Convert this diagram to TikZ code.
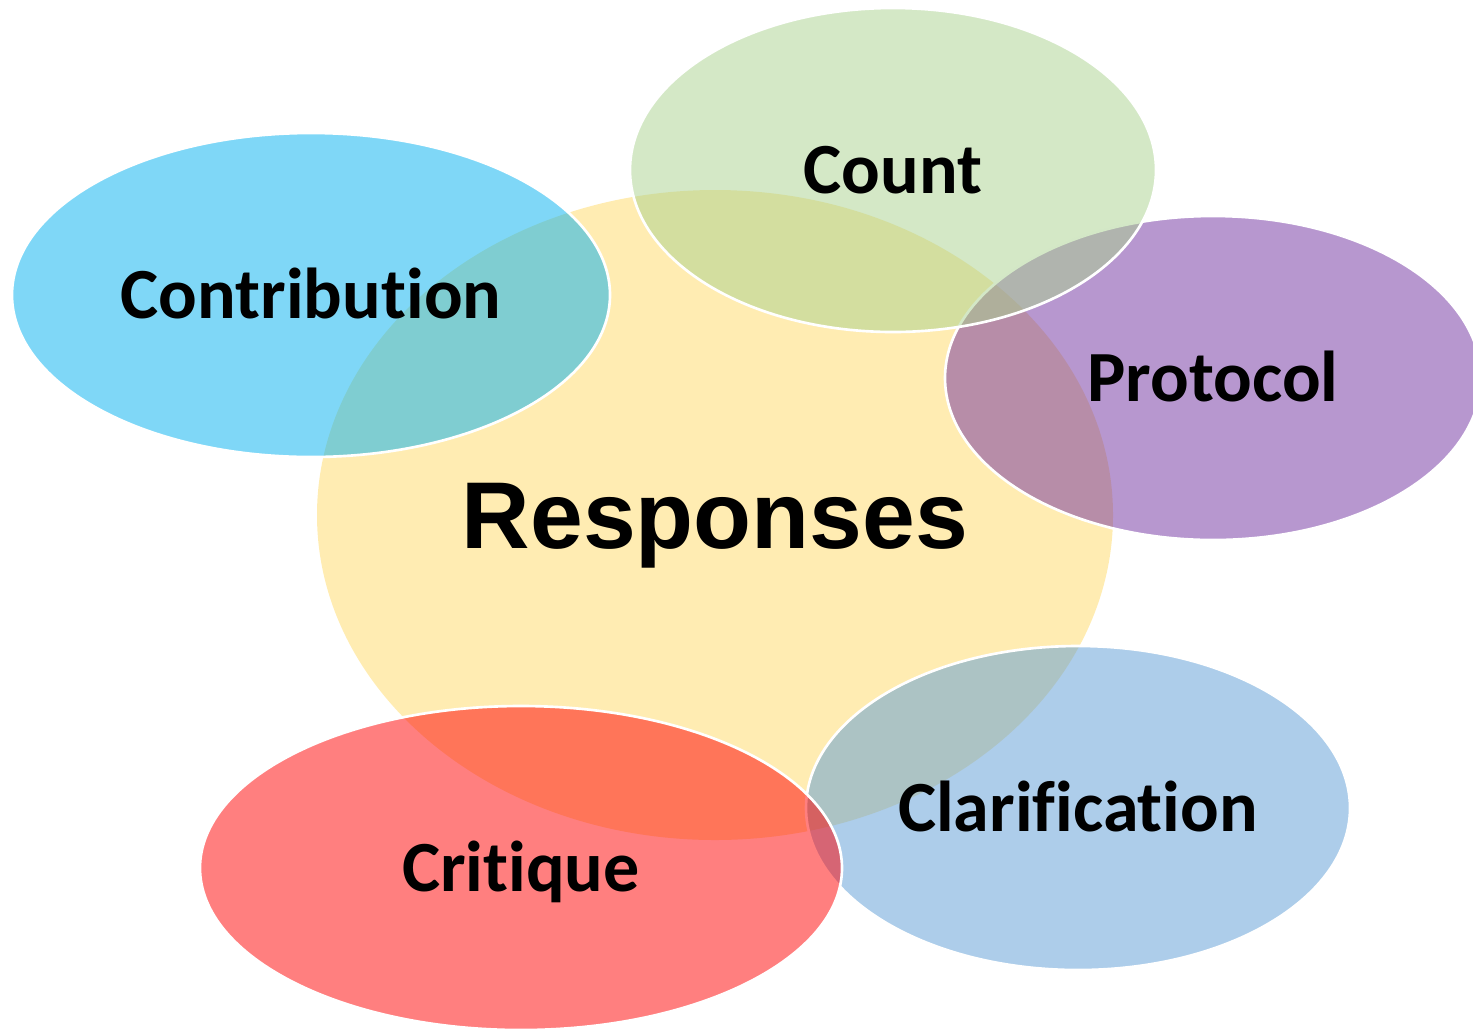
\documentclass[tikz,border=0pt]{standalone}
\usepackage{fontspec}
\setmainfont[Ligatures={NoCommon}]{Carlito}
\newfontfamily\headfont{Liberation Sans}
\usepackage{tikz}
\usetikzlibrary{shapes.geometric}

\definecolor{respyellow}{HTML}{FFD966}
\definecolor{countgreen}{HTML}{A9D18E}
\definecolor{contribcyan}{HTML}{00B0F0}
\definecolor{protpurple}{HTML}{7030A0}
\definecolor{clarblue}{HTML}{5B9BD5}
\definecolor{critred}{HTML}{FF0000}

\begin{document}
\begin{tikzpicture}[
    topic/.style={ellipse, inner sep=0pt, draw=white, line width=0.75pt,
        fill opacity=0.5, text opacity=1, minimum height=3.24cm,
        font=\fontsize{20.5}{24}\selectfont\bfseries,
        text height=13.2pt, text depth=0pt},
    centre/.style={ellipse, inner sep=0pt, fill=respyellow,
        fill opacity=0.5, text opacity=1,
        font=\headfont\fontsize{27}{32}\selectfont\bfseries,
        text height=19.3pt, text depth=0pt}
  ]
                \useasboundingbox (0,0) rectangle (14.73,10.32);
                \node[centre, minimum width=7.96cm, minimum height=6.50cm](responses) at (7.15,5.17){Responses};
                \node[topic, fill=protpurple, minimum width=5.36cm](protocol) at (12.13,6.54){Protocol};
                \node[topic, fill=countgreen, minimum width=5.26cm](count) at (8.93,8.62){Count};
                \node[topic, fill=clarblue, minimum width=5.44cm](clarification) at (10.78,2.24){Clarification};
                \node[topic, fill=critred, minimum width=6.42cm](critique) at (5.21,1.64){Critique};
                \node[topic, fill=contribcyan, minimum width=5.98cm](contribution) at (3.11,7.37){Contribution};
                \end{tikzpicture}
\end{document}
